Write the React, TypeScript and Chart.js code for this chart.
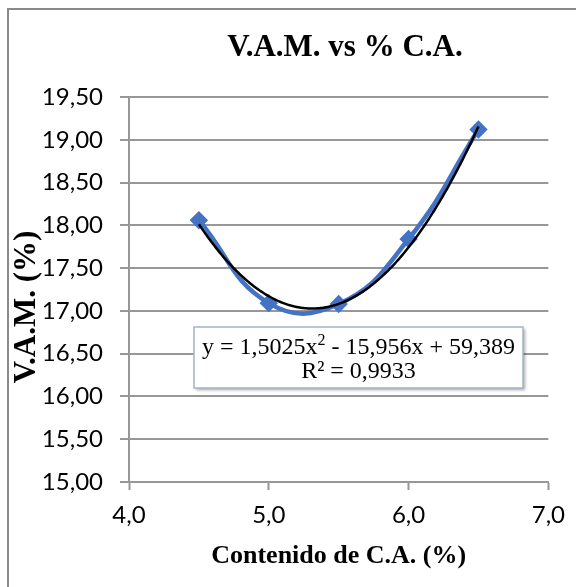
import React, { useEffect, useRef } from "react";
import { Chart, registerables } from "chart.js";

Chart.register(...registerables);

// ---- data ----
const CONTENIDO_CA = [4.5, 5.0, 5.5, 6.0, 6.5];
const VAM = [18.06, 17.09, 17.08, 17.84, 19.12];
const TREND_COEFFS = [59.389, -15.956, 1.5025]; // c0 + c1*x + c2*x^2

const TITLE = "V.A.M. vs % C.A.";
const X_TITLE = "Contenido de C.A. (%)";
const Y_TITLE = "V.A.M. (%)";
const EQ_MAIN = "y = 1,5025x";
const EQ_SUP = "2";
const EQ_REST = " - 15,956x + 59,389";
const EQ_R2 = "R² = 0,9933";

const X_MIN = 4;
const X_MAX = 7;
const X_STEP = 1;
const Y_MIN = 15;
const Y_MAX = 19.5;
const Y_STEP = 0.5;

const GRID = "#979797";
const BLUE = "#4472C4";
const SERIF = '"Liberation Serif", "Times New Roman", serif';
const SANS = 'Lato, "Open Sans", sans-serif';

const decor = {
  id: "decor",
  beforeDraw(chart: any) {
    const ctx = chart.ctx;
    ctx.save();
    ctx.fillStyle = "#fff";
    ctx.fillRect(0, 0, chart.width, chart.height);
    ctx.strokeStyle = "#8a8a8a";
    ctx.lineWidth = 2;
    ctx.strokeRect(8, 9, 800, 800);
    ctx.restore();
  },
  afterDatasetsDraw(chart: any) {
    const ctx = chart.ctx;
    const xs = chart.scales.x;
    const ys = chart.scales.y;
    const x0 = Math.min(...CONTENIDO_CA);
    const x1 = Math.max(...CONTENIDO_CA);
    ctx.save();
    ctx.beginPath();
    const n = 200;
    for (let i = 0; i <= n; i++) {
      const x = x0 + ((x1 - x0) * i) / n;
      const y = TREND_COEFFS[0] + TREND_COEFFS[1] * x + TREND_COEFFS[2] * x * x;
      const px = xs.getPixelForValue(x);
      const py = ys.getPixelForValue(y);
      if (i === 0) ctx.moveTo(px, py);
      else ctx.lineTo(px, py);
    }
    ctx.strokeStyle = "#000";
    ctx.lineWidth = 2.5;
    ctx.stroke();
    ctx.restore();
  },
  afterDraw(chart: any) {
    const ctx = chart.ctx;
    ctx.save();
    // main title
    ctx.fillStyle = "#000";
    ctx.font = `bold 31px ${SERIF}`;
    ctx.textAlign = "center";
    ctx.textBaseline = "middle";
    ctx.fillText(TITLE, 345, 48);
    // y title
    ctx.save();
    ctx.translate(27, 307);
    ctx.rotate(-Math.PI / 2);
    ctx.font = `bold 31px ${SERIF}`;
    ctx.fillText(Y_TITLE, 0, 0);
    ctx.restore();

    // equation box
    const bx = 194, by = 327, bw = 329, bh = 61;
    ctx.save();
    ctx.shadowColor = "rgba(0,0,0,0.35)";
    ctx.shadowOffsetX = 2;
    ctx.shadowOffsetY = 2;
    ctx.shadowBlur = 3;
    ctx.fillStyle = "#fff";
    ctx.fillRect(bx, by, bw, bh);
    ctx.restore();
    ctx.strokeStyle = "#a3b4cc";
    ctx.lineWidth = 1.5;
    ctx.strokeRect(bx, by, bw, bh);

    const cx = bx + bw / 2;
    ctx.fillStyle = "#000";
    ctx.textBaseline = "alphabetic";
    ctx.textAlign = "left";
    const mainFont = `24px ${SERIF}`;
    const supFont = `16px ${SERIF}`;
    ctx.font = mainFont;
    const w1 = ctx.measureText(EQ_MAIN).width;
    const w3 = ctx.measureText(EQ_REST).width;
    ctx.font = supFont;
    const w2 = ctx.measureText(EQ_SUP).width;
    let x = cx - (w1 + w2 + w3) / 2;
    const base1 = 354;
    ctx.font = mainFont;
    ctx.fillText(EQ_MAIN, x, base1);
    x += w1;
    ctx.font = supFont;
    ctx.fillText(EQ_SUP, x, base1 - 9);
    x += w2;
    ctx.font = mainFont;
    ctx.fillText(EQ_REST, x, base1);
    ctx.textAlign = "center";
    ctx.fillText(EQ_R2, cx, 378);
    ctx.restore();
  },
};

export default function App() {
  const ref = useRef<HTMLCanvasElement | null>(null);

  useEffect(() => {
    if (!ref.current) return;
    const chart = new Chart(ref.current, {
      type: "line",
      data: {
        datasets: [
          {
            label: "V.A.M.",
            data: CONTENIDO_CA.map((x, i) => ({ x, y: VAM[i] })),
            borderColor: BLUE,
            backgroundColor: BLUE,
            borderWidth: 4.5,
            tension: 0.45,
            pointStyle: "rectRot",
            pointRadius: 6,
            pointBackgroundColor: BLUE,
            pointBorderColor: BLUE,
            fill: false,
          },
        ],
      },
      options: {
        responsive: false,
        animation: false,
        layout: { padding: { left: 0, right: 27, top: 97, bottom: 0 } },
        plugins: {
          legend: { display: false },
          title: { display: false },
          tooltip: { enabled: false },
        },
        scales: {
          x: {
            type: "linear",
            min: X_MIN,
            max: X_MAX,
            afterFit: (s: any) => {
              s.height = 105;
            },
            ticks: {
              stepSize: X_STEP,
              padding: 11,
              color: "#000",
              font: { family: SANS, size: 24 },
              callback: (v: any) => Number(v).toFixed(1).replace(".", ","),
            },
            grid: {
              display: true,
              drawOnChartArea: false,
              drawTicks: true,
              tickLength: 8,
              tickColor: GRID,
              tickWidth: 2,
            },
            border: { display: true, color: GRID, width: 2 },
            title: {
              display: true,
              text: X_TITLE,
              color: "#000",
              font: { family: SERIF, size: 26, weight: "bold" },
              padding: { top: 0, bottom: 15 },
            },
          },
          y: {
            min: Y_MIN,
            max: Y_MAX,
            afterFit: (s: any) => {
              s.width = 129;
            },
            ticks: {
              stepSize: Y_STEP,
              padding: 17,
              color: "#000",
              font: { family: SANS, size: 24 },
              callback: (v: any) => Number(v).toFixed(2).replace(".", ","),
            },
            grid: {
              color: GRID,
              lineWidth: 2,
              drawTicks: true,
              tickLength: 9,
              tickColor: GRID,
              tickWidth: 2,
            },
            border: { display: true, color: GRID, width: 2 },
          },
        },
      },
      plugins: [decor],
    } as any);
    return () => chart.destroy();
  }, []);

  return (
    <div style={{ position: "absolute", left: 0, top: 0, width: 576, height: 587 }}>
      <canvas ref={ref} width={576} height={587} style={{ display: "block" }} />
    </div>
  );
}
